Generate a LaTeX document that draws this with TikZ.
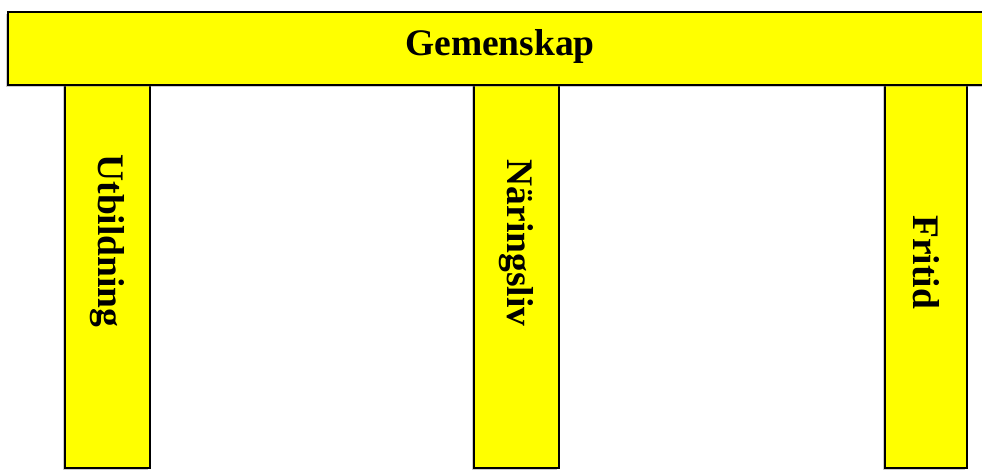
\documentclass[tikz,border=0pt]{standalone}
\usepackage{fontspec}
\setmainfont{Liberation Serif}
\usetikzlibrary{shadows}
\definecolor{beamColor}{RGB}{255,255,0}
\colorlet{edgeColor}{black}
\tikzset{
  block/.style={fill=beamColor, draw=edgeColor, line width=1.6pt,
    drop shadow={shadow xshift=-2pt, shadow yshift=-2pt, opacity=.4}},
  word/.style={font=\fontsize{37.5}{42}\selectfont\bfseries, inner sep=0pt}
}
\begin{document}
\begin{tikzpicture}[x=1pt,y=-1pt]
    \useasboundingbox (0,0) rectangle (982,469);
    \draw [block] (65,82) rectangle (150,468);
    \draw [block] (474,82) rectangle (559,468);
    \draw [block] (885,82) rectangle (967,468);
    \draw [block] (8,12) rectangle (990,85);
    \node [word] (roof) at (500,46) {Gemenskap};
    \node [word, rotate=-90] (utb) at (107,241) {Utbildning};
    \node [word, rotate=-90] (nar) at (516,243) {Näringsliv};
    \node [word, rotate=-90] (fri) at (926,262) {Fritid};
  \end{tikzpicture}
\end{document}
